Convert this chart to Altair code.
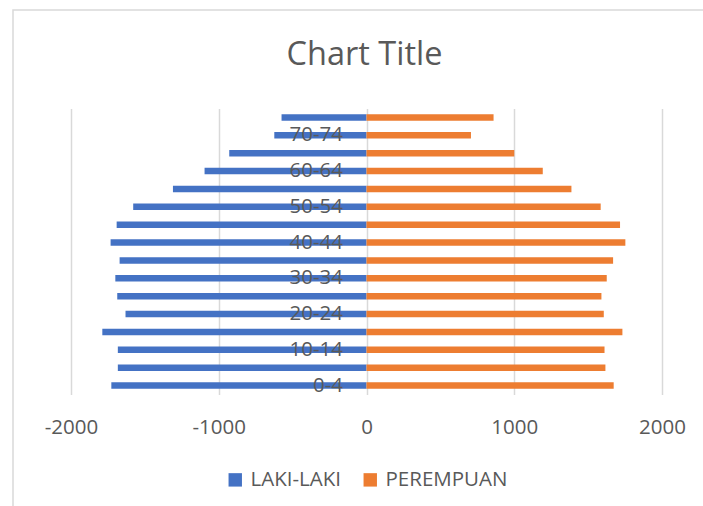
import altair as alt
import pandas as pd

ages = ["0-4", "5-9", "10-14", "15-19", "20-24", "25-29", "30-34", "35-39",
        "40-44", "45-49", "50-54", "55-59", "60-64", "65-69", "70-74", "75+"]
laki = [1727, 1683, 1683, 1788, 1631, 1687, 1700, 1671, 1732, 1691, 1579, 1310, 1096, 929, 624, 575]
perempuan = [1673, 1617, 1611, 1732, 1606, 1590, 1626, 1669, 1752, 1716, 1585, 1387, 1193, 1000, 707, 860]
series = ["LAKI-LAKI", "PEREMPUAN"]
colors = ["#4472C4", "#ED7D31"]
x_ticks = [-2000, -1000, 0, 1000, 2000]
y_labels = ["0-4", "10-14", "20-24", "30-34", "40-44", "50-54", "60-64", "70-74"]
title_text = ["Chart Title"]

rows = []
for a, m, f in zip(ages, laki, perempuan):
    rows.append({"age": a, "sex": series[0], "value": -m})
    rows.append({"age": a, "sex": series[1], "value": f})
df = pd.DataFrame(rows)

FONT = "Open Sans"
GRAY = "#595959"
W, H = 591, 286
PL, PT = 71, 108.5

frame = alt.Chart(pd.DataFrame({"k": [0]})).mark_rect(
    fill=None, stroke="#D9D9D9", strokeWidth=1.5, clip=False
).encode(
    x=alt.value(13 - PL), x2=alt.value(760),
    y=alt.value(10 - PT), y2=alt.value(560),
)

title = alt.Chart(pd.DataFrame({"t": title_text})).mark_text(
    font=FONT, fontSize=32.5, color=GRAY, align="center", baseline="alphabetic"
).encode(
    text="t:N", x=alt.value(293.5), y=alt.value(65 - PT),
)

bars = alt.Chart(df).mark_bar().encode(
    y=alt.Y("age:N", sort=list(reversed(ages)),
            scale=alt.Scale(paddingInner=0.64, paddingOuter=0.32),
            axis=alt.Axis(title=None, values=y_labels, offset=-(W / 2),
                          ticks=False, domain=False, grid=False,
                          labelPadding=24, labelFont=FONT, labelFontSize=20.5,
                          labelColor=GRAY, zindex=1)),
    x=alt.X("value:Q", stack=None,
            scale=alt.Scale(domain=[-2000, 2000], nice=False),
            axis=alt.Axis(title=None, values=x_ticks, labelExpr="datum.value + ''",
                          ticks=False, domain=False, grid=True, labelFlush=False,
                          gridColor="#D9D9D9", gridWidth=1.5,
                          labelPadding=23, labelFont=FONT, labelFontSize=20.5,
                          labelColor=GRAY)),
    color=alt.Color("sex:N", scale=alt.Scale(domain=series, range=colors),
                    legend=alt.Legend(title=None, orient="none", direction="horizontal",
                                      legendX=154, legendY=361,
                                      symbolType="square", symbolSize=180,
                                      symbolStrokeWidth=0, symbolOpacity=1,
                                      labelFont=FONT, labelFontSize=20.5,
                                      labelColor=GRAY, labelOffset=5,
                                      columnPadding=19)),
)

chart = alt.layer(frame, title, bars).properties(
    width=W, height=H,
    background="white",
    autosize=alt.AutoSizeParams(type="none"),
    padding={"left": PL, "top": PT, "right": 703 - PL - W, "bottom": 506 - PT - H},
).configure_view(stroke=None)

chart.save("out.html", embed_options={"renderer": "svg", "actions": False})
